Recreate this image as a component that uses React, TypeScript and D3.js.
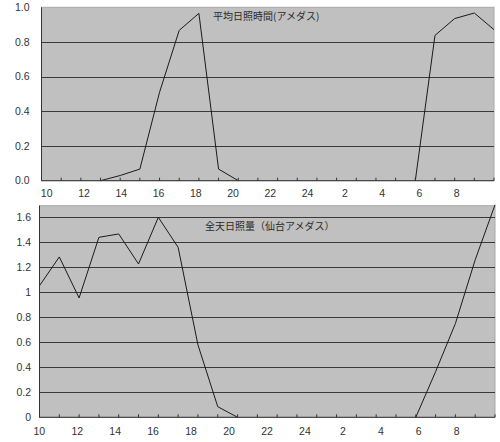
import { useRef, useEffect } from "react";
import * as d3 from "d3";

// hourly categories, 10:00 through 9:00 next morning
const hours = [10, 11, 12, 13, 14, 15, 16, 17, 18, 19, 20, 21, 22, 23, 24, 1, 2, 3, 4, 5, 6, 7, 8, 9];
const tickLabels = ["10", "12", "14", "16", "18", "20", "22", "24", "2", "4", "6", "8"];

// 平均日照時間 (hours of sunshine)
const sunshine: (number | null)[] = [
  null, null, null, 0, 0.03, 0.067, 0.51, 0.867, 0.965, 0.067, 0,
  null, null, null, null, null, null, null, null,
  0, 0.838, 0.935, 0.967, 0.871,
];

// 全天日照量 (global solar radiation)
const radiation: (number | null)[] = [
  1.053, 1.283, 0.955, 1.44, 1.467, 1.227, 1.6, 1.36, 0.58, 0.085, 0,
  null, null, null, null, null, null, null, null,
  0, 0.365, 0.75, 1.26, 1.7,
];

const sunshineTicks = [0, 0.2, 0.4, 0.6, 0.8, 1.0];
const radiationTicks = [0, 0.2, 0.4, 0.6, 0.8, 1, 1.2, 1.4, 1.6];

interface PanelProps {
  values: (number | null)[];
  yMax: number;
  yTicks: number[];
  yFormat: (d: number) => string;
  title: string;
  box: { left: number; right: number; top: number; bottom: number };
  labelRange: [number, number];
  labelRight: number;
  labelY: number;
  titlePos: [number, number];
}

function Panel({ values, yMax, yTicks, yFormat, title, box, labelRange, labelRight, labelY, titlePos }: PanelProps) {
  const ref = useRef<SVGGElement>(null);

  useEffect(() => {
    if (!ref.current) return;
    const g = d3.select(ref.current);
    g.selectAll("*").remove();

    const x = d3.scaleLinear().domain([0, hours.length - 1]).range([box.left, box.right]);
    const y = d3.scaleLinear().domain([0, yMax]).range([box.bottom, box.top]);
    const xl = d3.scalePoint<string>().domain(tickLabels).range(labelRange);

    // plot area
    g.append("rect")
      .attr("x", box.left)
      .attr("y", box.top)
      .attr("width", box.right - box.left)
      .attr("height", box.bottom - box.top)
      .attr("fill", "#c0c0c0")
      .attr("stroke", "#a8a8a8")
      .attr("stroke-width", 1);

    // grid lines
    g.append("g")
      .selectAll("line")
      .data(yTicks.filter(d => d > 0 && d < yMax))
      .join("line")
      .attr("x1", box.left)
      .attr("x2", box.right)
      .attr("y1", d => Math.round(y(d)) + 0.5)
      .attr("y2", d => Math.round(y(d)) + 0.5)
      .attr("stroke", "#3a3a3a")
      .attr("stroke-width", 1);

    // data line
    const line = d3.line<number | null>()
      .defined(d => d !== null)
      .x((_, i) => x(i))
      .y(d => y(d as number));

    g.append("path")
      .datum(values)
      .attr("fill", "none")
      .attr("stroke", "#1a1a1a")
      .attr("stroke-width", 1)
      .attr("d", line);

    // axes lines
    g.append("line")
      .attr("x1", box.left).attr("x2", box.left)
      .attr("y1", box.top).attr("y2", box.bottom)
      .attr("stroke", "#333");
    g.append("line")
      .attr("x1", box.left).attr("x2", box.right)
      .attr("y1", box.bottom).attr("y2", box.bottom)
      .attr("stroke", "#333");

    // tick marks (inside)
    g.append("g")
      .selectAll("line")
      .data(hours.map((_, i) => i))
      .join("line")
      .attr("x1", d => x(d))
      .attr("x2", d => x(d))
      .attr("y1", box.bottom)
      .attr("y2", box.bottom - 3)
      .attr("stroke", "#333");

    // y labels
    g.append("g")
      .selectAll("text")
      .data(yTicks)
      .join("text")
      .attr("x", labelRight)
      .attr("y", d => y(d))
      .attr("dy", "0.35em")
      .attr("text-anchor", "end")
      .attr("fill", "#333")
      .attr("font-size", "10.5px")
      .text(yFormat);

    // x labels
    g.append("g")
      .selectAll("text")
      .data(tickLabels)
      .join("text")
      .attr("x", d => xl(d) as number)
      .attr("y", labelY)
      .attr("dy", "0.35em")
      .attr("text-anchor", "middle")
      .attr("fill", "#333")
      .attr("font-size", "10.5px")
      .text(d => d);

    // title
    g.append("text")
      .attr("x", titlePos[0])
      .attr("y", titlePos[1])
      .attr("dy", "0.35em")
      .attr("fill", "#2a2a2a")
      .attr("font-size", "10px")
      .attr("font-family", "'Noto Sans CJK JP', sans-serif")
      .text(title);
  }, [values, yMax]);

  return <g ref={ref} />;
}

export default function App() {
  return (
    <svg
      width={500}
      height={442}
      style={{ position: "absolute", left: 0, top: 0, background: "#fff" }}
      fontFamily="'Liberation Sans', Arial, sans-serif"
    >
      <Panel
        values={sunshine}
        yMax={1.0}
        yTicks={sunshineTicks}
        yFormat={d => d.toFixed(1)}
        title="平均日照時間(アメダス)"
        box={{ left: 41.5, right: 494, top: 7.3, bottom: 180.7 }}
        labelRange={[46.7, 456.7]}
        labelRight={29.5}
        labelY={193.3}
        titlePos={[213, 16]}
      />
      <Panel
        values={radiation}
        yMax={1.693}
        yTicks={radiationTicks}
        yFormat={d => d3.format("~g")(d)}
        title="全天日照量（仙台アメダス）"
        box={{ left: 39.5, right: 495, top: 205.7, bottom: 417.3 }}
        labelRange={[39.3, 456.7]}
        labelRight={31}
        labelY={431.7}
        titlePos={[205, 226.7]}
      />
    </svg>
  );
}
